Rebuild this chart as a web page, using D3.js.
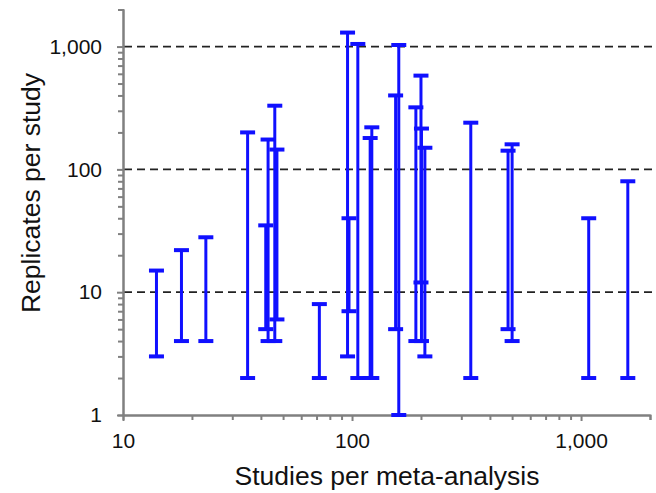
<!DOCTYPE html>
<html>
<head>
<meta charset="utf-8">
<script src="https://cdn.jsdelivr.net/npm/d3@7"></script>
<style>
    body { margin: 0; background: #fff; }
    text { font-family: "Liberation Sans", Arial, sans-serif; fill: #111; }
</style>
</head>
<body>
<script>
(function(){

    // studies per meta-analysis, with min / max replicates per study
    var studies  = [14, 18, 23, 35, 42, 43, 46, 47, 72, 95.6, 97, 106, 120, 122, 155, 160, 190, 200, 201, 208, 330, 480, 500, 1080, 1600];
    var lowReps  = [3, 4, 4, 2, 5, 4, 4, 6, 2, 3, 7, 2, 2, 2, 5, 1, 4, 12, 4, 3, 2, 5, 4, 2, 2];
    var highReps = [15, 22, 28, 200, 35, 175, 330, 145, 8, 1300, 40, 1050, 180, 220, 400, 1030, 320, 580, 215, 150, 240, 142, 160, 40, 80];

    var xTicks = [10, 100, 1000];
    var yTicks = [1, 10, 100, 1000];
    var gridValues = [10, 100, 1000];
    var xMinor = [20, 30, 40, 50, 60, 70, 80, 90, 200, 300, 400, 500, 600, 700, 800, 900, 2000];
    var yMinor = [2, 3, 4, 5, 6, 7, 8, 9, 20, 30, 40, 50, 60, 70, 80, 90, 200, 300, 400, 500, 600, 700, 800, 900];

    window.onload = setChart();

    function setChart() {

        var width = 656,
            height = 493,
            left = 123,
            right = 650,
            top = 9.6,
            bottom = 415;

        var svg = d3.select("body")
            .append("svg")
            .attr("width", width)
            .attr("height", height);

        var x = d3.scaleLog()
            .domain([10, 2000])
            .range([left, right]);

        var y = d3.scaleLog()
            .domain([1, 2000])
            .range([bottom, top]);

        // dashed gridlines
        svg.selectAll(".grid")
            .data(gridValues)
            .enter()
            .append("line")
            .attr("class", "grid")
            .attr("x1", left + 1)
            .attr("x2", right + 2)
            .attr("y1", function(d) { return y(d); })
            .attr("y2", function(d) { return y(d); })
            .style("stroke", "#222")
            .style("stroke-width", 1.8)
            .style("stroke-dasharray", "8,5");

        // axes
        var xMinorAxis = svg.append("g")
            .attr("transform", "translate(0," + bottom + ")")
            .call(d3.axisBottom(x).tickValues(xMinor).tickSize(5).tickFormat(""));

        var yMinorAxis = svg.append("g")
            .attr("transform", "translate(" + left + ",0)")
            .call(d3.axisLeft(y).tickValues(yMinor).tickSize(5).tickFormat(""));

        var xAxis = svg.append("g")
            .attr("transform", "translate(0," + bottom + ")")
            .call(d3.axisBottom(x)
                .tickValues(xTicks)
                .tickFormat(d3.format(","))
                .tickSizeInner(6)
                .tickSizeOuter(0)
                .tickPadding(12));

        var yAxis = svg.append("g")
            .attr("transform", "translate(" + left + ",0)")
            .call(d3.axisLeft(y)
                .tickValues(yTicks)
                .tickFormat(d3.format(","))
                .tickSizeInner(6)
                .tickSizeOuter(0)
                .tickPadding(15));

        svg.selectAll(".domain, .tick line")
            .style("stroke", "#808080")
            .style("stroke-width", 2);

        svg.selectAll(".tick text")
            .style("font-size", "21px")
            .style("fill", "#111");

        // error bars
        var bars = svg.selectAll(".bar")
            .data(studies)
            .enter()
            .append("g")
            .attr("class", "bar");

        bars.append("line")
            .attr("x1", function(d) { return x(d); })
            .attr("x2", function(d) { return x(d); })
            .attr("y1", function(d, i) { return y(lowReps[i]); })
            .attr("y2", function(d, i) { return y(highReps[i]); })
            .style("stroke", "#1010ff")
            .style("stroke-width", 3);

        bars.append("line")
            .attr("x1", function(d) { return x(d) - 7.5; })
            .attr("x2", function(d) { return x(d) + 7.5; })
            .attr("y1", function(d, i) { return y(lowReps[i]); })
            .attr("y2", function(d, i) { return y(lowReps[i]); })
            .style("stroke", "#1010ff")
            .style("stroke-width", 4);

        bars.append("line")
            .attr("x1", function(d) { return x(d) - 7.5; })
            .attr("x2", function(d) { return x(d) + 7.5; })
            .attr("y1", function(d, i) { return y(highReps[i]); })
            .attr("y2", function(d, i) { return y(highReps[i]); })
            .style("stroke", "#1010ff")
            .style("stroke-width", 4);

        // axis titles
        svg.append("text")
            .attr("x", 387)
            .attr("y", 485)
            .attr("text-anchor", "middle")
            .style("font-size", "26.5px")
            .text("Studies per meta-analysis");

        svg.append("text")
            .attr("transform", "translate(40,193) rotate(-90)")
            .attr("text-anchor", "middle")
            .style("font-size", "26.5px")
            .text("Replicates per study");
    }

})();
</script>
</body>
</html>
